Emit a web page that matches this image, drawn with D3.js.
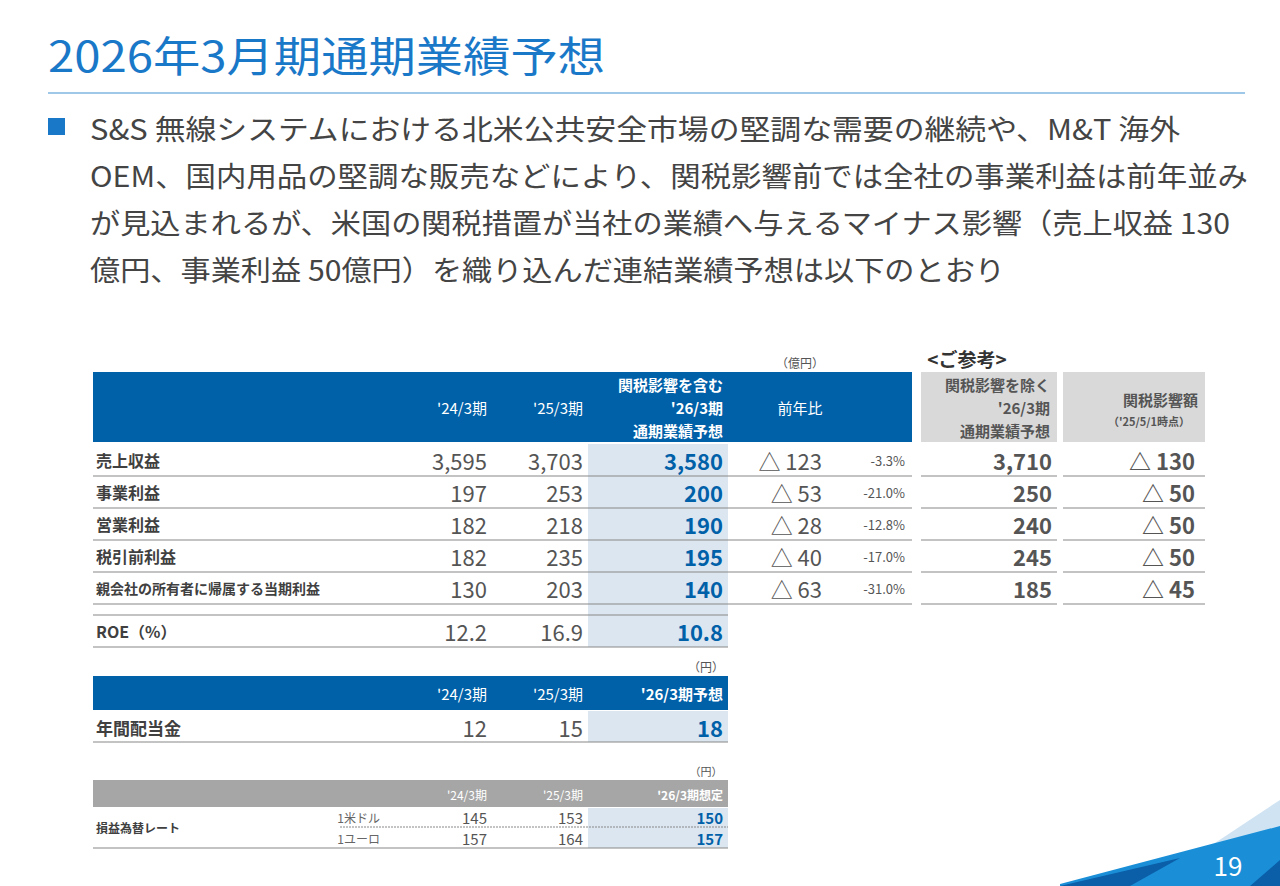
<!DOCTYPE html>
<html><head><meta charset="utf-8">
<script src="https://cdn.jsdelivr.net/npm/d3@7"></script>
<style>body{margin:0;background:#fff}svg{display:block;font-family:"Noto Sans CJK JP","Noto Sans",sans-serif}</style>
</head><body><svg id="s" width="1280" height="886"></svg>
<script>
// data
const periods = ["'24/3期", "'25/3期"];
const items = ["売上収益", "事業利益", "営業利益", "税引前利益", "親会社の所有者に帰属する当期利益"];
const fy24 = [3595, 197, 182, 182, 130];
const fy25 = [3703, 253, 218, 235, 203];
const fy26 = [3580, 200, 190, 195, 140];
const yoyDiff = [123, 53, 28, 40, 63];
const yoyPct = ["-3.3", "-21.0", "-12.8", "-17.0", "-31.0"];
const exTariff = [3710, 250, 240, 245, 185];
const tariffImpact = [130, 50, 50, 50, 45];
const roe = [12.2, 16.9, 10.8];
const dividend = [12, 15, 18];
const fxLabels = ["1米ドル", "1ユーロ"];
const fxUsd = [145, 153, 150];
const fxEur = [157, 164, 157];
const bullet = ["S&S 無線システムにおける北米公共安全市場の堅調な需要の継続や、M&T 海外",
  "OEM、国内用品の堅調な販売などにより、関税影響前では全社の事業利益は前年並み",
  "が見込まれるが、米国の関税措置が当社の業績へ与えるマイナス影響（売上収益 130",
  "億円、事業利益 50億円）を織り込んだ連結業績予想は以下のとおり"];
const bulletWidths = [1090, 1158, 1140, 915];

const svg = d3.select("#s");
const blue = "#0060a8", grey = "#a6a6a6", hl = "#dce6f1", txt = "#555", dark = "#404040";
const fmt = d3.format(",");

function t(x, y, s, o = {}) {
  return svg.append("text").attr("x", x).attr("y", y).text(s)
    .attr("font-size", o.size || 20).attr("fill", o.fill || txt)
    .attr("text-anchor", o.anchor || "start").attr("font-weight", o.bold ? 700 : 400)
    .attr("dominant-baseline", "central");
}
function rect(x, y, w, h, f) { svg.append("rect").attr("x", x).attr("y", y).attr("width", w).attr("height", h).attr("fill", f); }
function line(x1, x2, y, c = "#888", w = 1.2, dash) {
  const l = svg.append("line").attr("x1", x1).attr("x2", x2).attr("y1", y).attr("y2", y).attr("stroke", c).attr("stroke-width", w);
  if (dash) l.attr("stroke-dasharray", dash);
}

// title
svg.append("text").attr("x", 48).attr("y", 72).text("2026年3月期通期業績予想")
  .attr("font-size", 42).attr("fill", "#1a78c8")
  .attr("textLength", 557).attr("lengthAdjust", "spacingAndGlyphs");
line(48, 1245, 93, "#7fb6e0", 1.5);
rect(48, 118, 17, 17, "#1a78c8");
bullet.forEach((s, i) => svg.append("text").attr("x", 90).attr("y", 140 + i * 47).text(s)
  .attr("font-size", 28).attr("fill", "#444")
  .attr("textLength", bulletWidths[i]).attr("lengthAdjust", "spacingAndGlyphs"));

// main table
const rowY = d3.scaleBand().domain(d3.range(5)).range([444, 604]);
const cx = { c24: 487, c25: 583, c26: 723 };
t(800, 362, "（億円）", { size: 12, anchor: "middle" });
t(967, 358, "<ご参考>", { size: 19, anchor: "middle", fill: "#333", bold: true });
rect(93, 372, 819, 70, blue);
rect(921, 372, 136, 70, "#d9d9d9");
rect(1063, 372, 142, 70, "#d9d9d9");
rect(588, 444, 140, 203, hl);
[periods[0], periods[1]].forEach((p, i) => t([cx.c24, cx.c25][i], 407, p, { size: 15, fill: "#fff", anchor: "end" }));
["関税影響を含む", "'26/3期", "通期業績予想"].forEach((s, i) => t(cx.c26, 384 + i * 23, s, { size: 15, fill: "#fff", anchor: "end", bold: true }));
t(800, 407, "前年比", { size: 15, fill: "#fff", anchor: "middle" });
["関税影響を除く", "'26/3期", "通期業績予想"].forEach((s, i) => t(1050, 384 + i * 23, s, { size: 15, fill: txt, anchor: "end", bold: true }));
t(1198, 399, "関税影響額", { size: 15, anchor: "end", bold: true });
t(1190, 421, "（'25/5/1時点）", { size: 11, anchor: "end", bold: true });

items.forEach((it, i) => {
  const y = rowY(i) + rowY.bandwidth() / 2;
  t(96, y, it, { size: i === 4 ? 14 : 16, fill: dark, bold: true });
  t(cx.c24, y, fmt(fy24[i]), { size: 22, anchor: "end" });
  t(cx.c25, y, fmt(fy25[i]), { size: 22, anchor: "end" });
  t(cx.c26, y, fmt(fy26[i]), { size: 22, anchor: "end", fill: blue, bold: true });
  t(822, y, "△ " + yoyDiff[i], { size: 22, anchor: "end" });
  t(905, y, yoyPct[i] + "%", { size: 13, anchor: "end" });
  t(1052, y, fmt(exTariff[i]), { size: 22, anchor: "end", bold: true });
  t(1195, y, "△ " + tariffImpact[i], { size: 22, anchor: "end", bold: true });
  const ly = rowY(i) + rowY.bandwidth();
  line(93, 912, ly); line(921, 1057, ly); line(1063, 1205, ly);
});
// ROE
line(93, 728, 615);
t(96, 631, "ROE（%）", { size: 16, fill: dark, bold: true });
roe.forEach((v, i) => t([cx.c24, cx.c25, cx.c26][i], 631, v.toFixed(1), { size: 22, anchor: "end", fill: i === 2 ? blue : txt, bold: i === 2 }));
line(93, 728, 647);

// dividend
t(706, 666, "（円）", { size: 12, anchor: "middle" });
rect(93, 676, 635, 34, blue);
[...periods, "'26/3期予想"].forEach((p, i) => t([cx.c24, cx.c25, cx.c26][i], 693, p, { size: 15, fill: "#fff", anchor: "end", bold: i === 2 }));
rect(588, 711, 140, 31, hl);
t(96, 727, "年間配当金", { size: 17, fill: dark, bold: true });
dividend.forEach((v, i) => t([cx.c24, cx.c25, cx.c26][i], 727, v, { size: 22, anchor: "end", fill: i === 2 ? blue : txt, bold: i === 2 }));
line(93, 728, 742);

// fx
t(706, 771, "（円）", { size: 11, anchor: "middle" });
rect(93, 780, 635, 27, grey);
[...periods, "'26/3期想定"].forEach((p, i) => t([cx.c24, cx.c25, cx.c26][i], 794, p, { size: 12, fill: "#fff", anchor: "end", bold: i === 2 }));
rect(588, 808, 140, 40, hl);
t(96, 827, "損益為替レート", { size: 12, fill: dark, bold: true });
[fxUsd, fxEur].forEach((arr, r) => {
  const y = 817 + r * 21;
  t(380, y, fxLabels[r], { size: 12, anchor: "end", fill: "#666" });
  arr.forEach((v, i) => t([cx.c24, cx.c25, cx.c26][i], y, v, { size: 15, anchor: "end", fill: i === 2 ? blue : txt, bold: i === 2 }));
});
line(340, 728, 827, "#888", 1, "2,1");
line(93, 728, 848);

// corner decoration
svg.append("polygon").attr("points", "1150,886 1280,800 1280,886").attr("fill", "#cfe3f3");
svg.append("polygon").attr("points", "1060,884 1280,826 1280,886 1060,886").attr("fill", "#1a8fd8");
svg.append("polygon").attr("points", "1060,886 1180,858 1130,886").attr("fill", "#0b5ea8");
svg.append("polygon").attr("points", "1250,886 1280,860 1280,886").attr("fill", "#0b5ea8");
t(1228, 864, "19", { size: 26, fill: "#fff", anchor: "middle" });
</script></body></html>
